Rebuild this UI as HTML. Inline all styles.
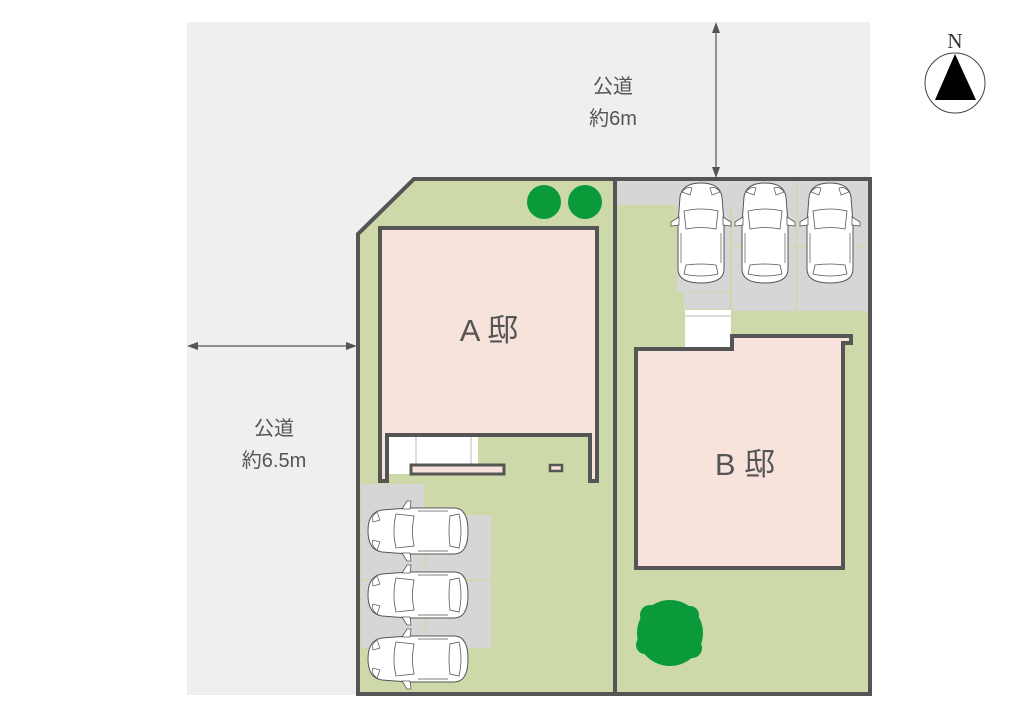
<!DOCTYPE html>
<html><head><meta charset="utf-8"><style>
html,body{margin:0;padding:0;background:#fff;}
svg{display:block;}
</style></head><body>
<svg width="1024" height="725" viewBox="0 0 1024 725" xmlns="http://www.w3.org/2000/svg">
<defs>
<g id="car">
<path d="M3,14 Q5,0 24,0 Q43,0 45,14 L47,40 L47,86 Q47,100 24,100 Q1,100 1,86 L1,40 Z" fill="#fff" stroke="#555" stroke-width="1"/>
<path d="M2,34 L-6,39 L-6,43 L2,42 Z M46,34 L54,39 L54,43 L46,42 Z" fill="#fff" stroke="#555" stroke-width="0.8"/>
<path d="M7,28 Q24,24 41,28 L39,46 Q24,43 9,46 Z" fill="none" stroke="#555" stroke-width="0.8"/>
<path d="M9,82 Q24,80 39,82 L41,91 Q24,95 7,91 Z" fill="none" stroke="#555" stroke-width="0.8"/>
<path d="M5,9 Q9,3 15,5 L13,12 Z M43,9 Q39,3 33,5 L35,12 Z" fill="none" stroke="#555" stroke-width="0.7"/>
<line x1="4" y1="50" x2="4" y2="80" stroke="#555" stroke-width="0.7"/>
<line x1="44" y1="50" x2="44" y2="80" stroke="#555" stroke-width="0.7"/>
</g>
</defs>
<polygon points="187,22 870,22 870,180 414,180 358,234 358,695 187,695" fill="#efefef"/>
<polygon points="414,179 870,179 870,694 358,694 358,234" fill="#cdd9a8"/>
<g fill="#d6d6d6">
<rect x="617" y="181" width="251" height="24"/>
<rect x="677" y="181" width="53" height="111"/>
<rect x="732" y="181" width="136" height="130"/>
<rect x="684" y="293" width="46" height="16"/>
<rect x="361" y="484" width="63" height="31"/>
<rect x="361" y="515" width="130" height="133"/>
</g>
<g stroke="#cdd9a8" stroke-width="1.5">
<line x1="797" y1="181" x2="797" y2="311"/>
<line x1="732" y1="246" x2="868" y2="246"/>
<line x1="361" y1="580" x2="491" y2="580"/>
<line x1="426" y1="515" x2="426" y2="648"/>
</g>
<polygon points="414,179 870,179 870,694 358,694 358,234" fill="none" stroke="#555" stroke-width="4"/>
<line x1="615" y1="179" x2="615" y2="694" stroke="#555" stroke-width="4"/>
<polygon points="380,228 597,228 597,481 590,481 590,435 387,435 387,481 380,481" fill="#f7e2dc" stroke="#555" stroke-width="4"/>
<rect x="389" y="437" width="89" height="37" fill="#fff"/>
<line x1="416" y1="437" x2="416" y2="465" stroke="#bbb" stroke-width="1"/>
<line x1="471" y1="437" x2="471" y2="465" stroke="#bbb" stroke-width="1"/>
<rect x="411" y="465" width="93" height="9" fill="#f7e2dc" stroke="#555" stroke-width="3"/>
<rect x="550" y="465" width="12" height="6" fill="#f7e2dc" stroke="#555" stroke-width="2.5"/>
<rect x="685" y="310" width="46" height="38" fill="#fff"/>
<line x1="685" y1="316" x2="731" y2="316" stroke="#bbb"/>
<polygon points="636,349 732,349 732,336 851,336 851,343 843,343 843,568 636,568" fill="#f7e2dc" stroke="#555" stroke-width="4"/>
<g fill="#0a9a3a">
<circle cx="544" cy="202" r="17"/>
<circle cx="585" cy="202" r="17"/>
<circle cx="670" cy="633" r="33"/>
<circle cx="650" cy="615" r="10"/><circle cx="692" cy="648" r="10"/><circle cx="645" cy="645" r="9"/><circle cx="690" cy="615" r="9"/>
</g>
<use href="#car" x="677" y="183"/>
<use href="#car" x="741" y="183"/>
<use href="#car" x="806" y="183"/>
<use href="#car" transform="translate(368,555) rotate(-90)"/>
<use href="#car" transform="translate(368,619) rotate(-90)"/>
<use href="#car" transform="translate(368,683) rotate(-90)"/>
<g stroke="#555" stroke-width="1.2">
<line x1="716" y1="28" x2="716" y2="172"/>
<line x1="193" y1="346" x2="351" y2="346"/>
</g>
<g fill="#555">
<polygon points="716,22 712,33 720,33"/>
<polygon points="716,178 712,167 720,167"/>
<polygon points="187,346 198,342 198,350"/>
<polygon points="357,346 346,342 346,350"/>
</g>
<g font-family="Liberation Sans, Noto Sans CJK JP, sans-serif" fill="#555" font-size="20" text-anchor="middle">
<text x="613" y="93">公道</text>
<text x="613" y="125">約6m</text>
<text x="274" y="435">公道</text>
<text x="274" y="467">約6.5m</text>
<text x="489" y="341" font-size="31">A 邸</text>
<text x="745" y="475" font-size="31">B 邸</text>
</g>
<circle cx="955" cy="83" r="30" fill="#fff" stroke="#444" stroke-width="1"/>
<polygon points="955,54 935,100 976,100" fill="#000"/>
<text x="955" y="48" font-family="Liberation Serif, serif" font-size="21" text-anchor="middle" fill="#333">N</text>
</svg>
</body></html>
